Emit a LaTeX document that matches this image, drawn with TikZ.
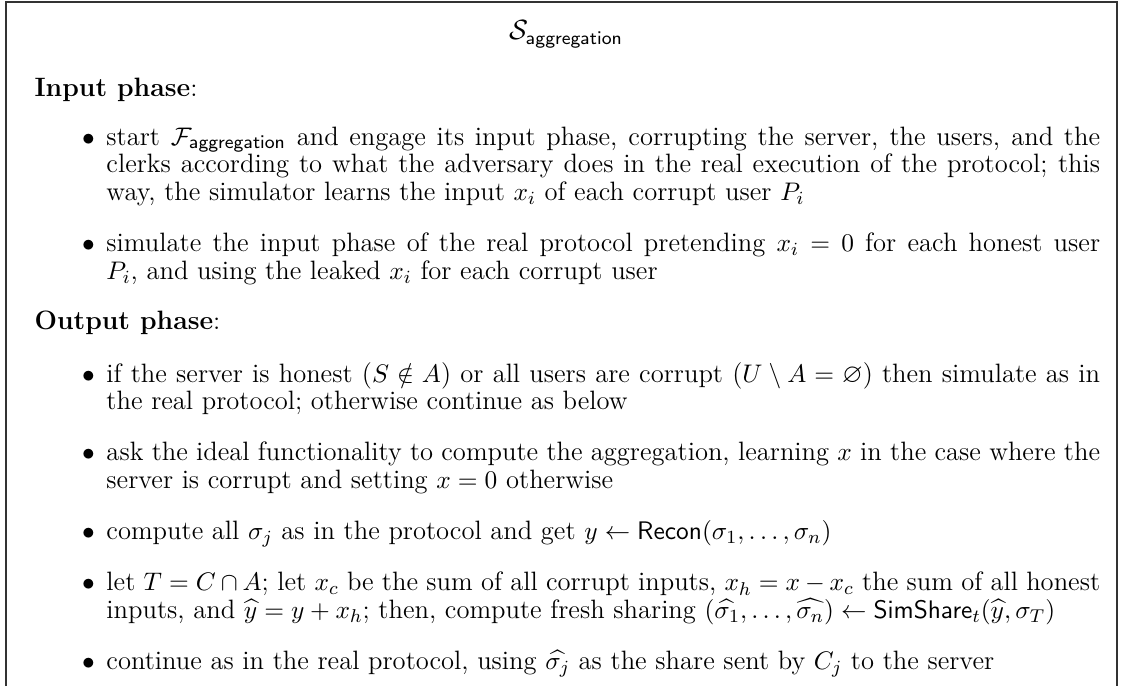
\documentclass[tikz,border=0pt]{standalone}
\usepackage{amssymb}
\usetikzlibrary{positioning}
\setlength{\leftmargini}{31pt}
\renewcommand{\labelitemi}{$\bullet$}
\newcommand{\bodysize}{\fontsize{11.45}{12}\selectfont}
\newenvironment{phaselist}{\begin{minipage}[t]{459.3pt}\begin{itemize}\setlength{\itemsep}{6pt}\setlength{\parsep}{4pt}}{\end{itemize}\end{minipage}}
\tikzstyle{heading} = [anchor=base west, inner sep=0pt, font=\bodysize]
\tikzstyle{steps} = [anchor=base west, inner sep=0pt, font=\bodysize]
\tikzstyle{frame} = [draw=black!80, line width=0.6pt]

\begin{document}
\begin{tikzpicture}[x=1pt,y=1pt]
\useasboundingbox (0,0) rectangle (483.2,-295.7);
% box is open at the bottom
\coordinate (bl) at (2.6,-295.7);
\coordinate (br) at (481.5,-295.7);
\draw [frame] (bl) |- (481.5,-0.9) -- (br);

\node (title) [anchor=base] at (244,-17.2) {\large$\mathcal{S}_{\mathsf{aggregation}}$};

\node (inhead) [heading] at (14.7,-41.4) {\textbf{Input phase}:};
\node (inlist) [steps] at ([yshift=-21.1pt]inhead.base west) {%
\begin{phaselist}
\item start $\mathcal{F}_{\mathsf{aggregation}}$ and engage its input phase, corrupting the server, the users, and the clerks according to what the adversary does in the real execution of the protocol; this way, the simulator learns the input $x_i$ of each corrupt user $P_i$
\item simulate the input phase of the real protocol pretending $x_i = 0$ for each honest user\linebreak $P_i$, and using the leaked $x_i$ for each corrupt user
\end{phaselist}};

\node (outhead) [heading] at (14.7,-142.2) {\textbf{Output phase}:};
\node (outlist) [steps] at ([yshift=-22.5pt]outhead.base west) {%
\begin{phaselist}
\item if the server is honest ($S \notin A$) or all users are corrupt ($U \setminus A = \varnothing$) then simulate as in the real protocol; otherwise continue as below
\item ask the ideal functionality to compute the aggregation, learning $x$ in the case where the server is corrupt and setting $x = 0$ otherwise
\item compute all $\sigma_j$ as in the protocol and get $y \leftarrow \mathsf{Recon}(\sigma_1, \ldots, \sigma_n)$
\item let $T = C \cap A$; let $x_c$ be the sum of all corrupt inputs, $x_h = x - x_c$ the sum of all honest inputs, and $\widehat{y} = y + x_h$; then, compute fresh sharing $(\widehat{\sigma_1}, \ldots, \widehat{\sigma_n}) \leftarrow \mathsf{SimShare}_t(\widehat{y}, \sigma_T)$
\item continue as in the real protocol, using $\widehat{\sigma_j}$ as the share sent by $C_j$ to the server
\end{phaselist}};
\end{tikzpicture}
\end{document}
